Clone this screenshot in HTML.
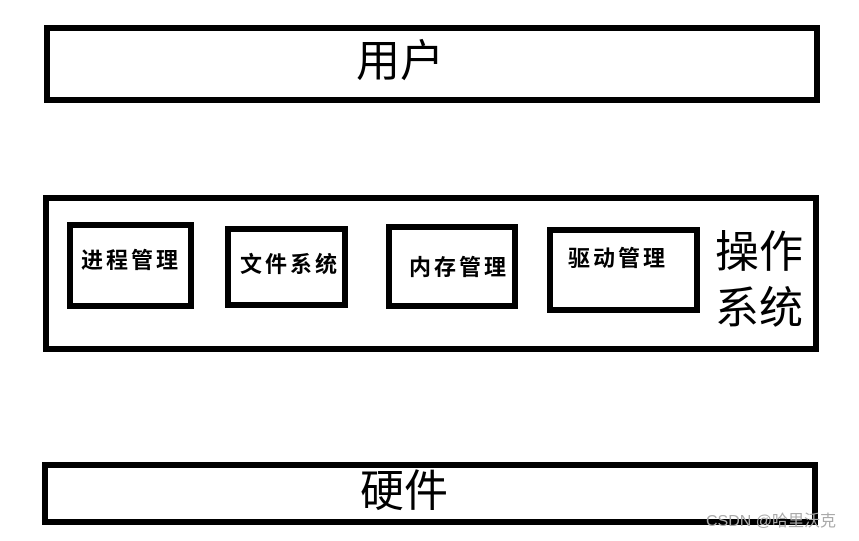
<!DOCTYPE html>
<html><head><meta charset="utf-8"><style>
body{margin:0;width:859px;height:541px;background:#fff;position:relative;overflow:hidden;font-family:"Liberation Sans","Noto Sans CJK SC",sans-serif}
.b{position:absolute;border:6px solid #000;box-sizing:border-box}
.t{position:absolute;white-space:nowrap;color:#000;line-height:1}
</style></head><body>
<div class="b" style="left:44px;top:25px;width:776px;height:78px"></div>
<div class="t" style="left:356px;top:40px;font-size:44px">用户</div>
<div class="b" style="left:43px;top:195px;width:776px;height:157px"></div>
<div class="b" style="left:67px;top:222px;width:127px;height:87px"></div>
<div class="b" style="left:225px;top:226px;width:123px;height:82px"></div>
<div class="b" style="left:386px;top:224px;width:132px;height:85px"></div>
<div class="b" style="left:547px;top:227px;width:153px;height:86px"></div>
<div class="t" style="left:81px;top:250px;font-size:22px;font-weight:bold;letter-spacing:3px">进程管理</div>
<div class="t" style="left:240px;top:254px;font-size:22px;font-weight:bold;letter-spacing:3px">文件系统</div>
<div class="t" style="left:409px;top:257px;font-size:22px;font-weight:bold;letter-spacing:3px">内存管理</div>
<div class="t" style="left:568px;top:248px;font-size:22px;font-weight:bold;letter-spacing:3px">驱动管理</div>
<div class="t" style="left:715px;top:225px;font-size:44px;line-height:56px">操作<br>系统</div>
<div class="b" style="left:42px;top:462px;width:776px;height:63px"></div>
<div class="t" style="left:360px;top:470px;font-size:44px">硬件</div>
<div class="t" style="left:706px;top:514px;font-size:16px;color:#aaa">CSDN @哈里沃克</div>
</body></html>
